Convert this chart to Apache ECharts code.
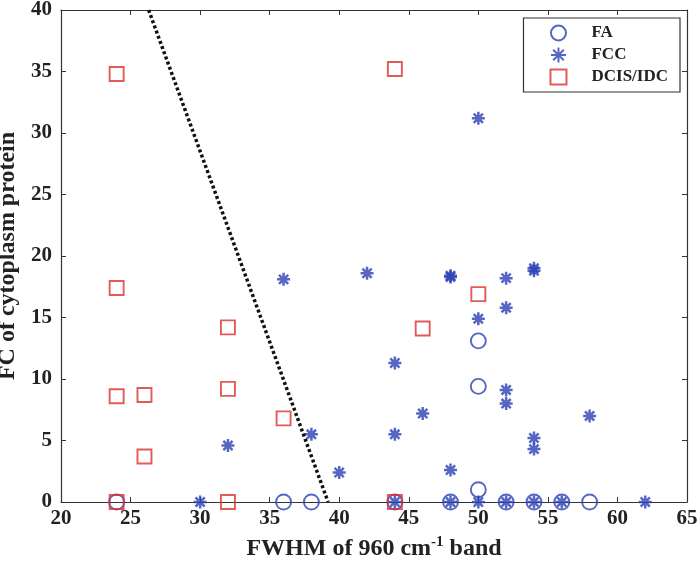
<!DOCTYPE html>
<html><head><meta charset="utf-8">
<script src="https://cdn.jsdelivr.net/npm/echarts@6/dist/echarts.min.js"></script>
<style>html,body{margin:0;padding:0;background:#fff}#c{width:700px;height:566px}</style>
</head><body><div id="c"></div>
<script>
const faData = [[24,0],[36,0],[38,0],[44,0],[48,0],[50,1],[50,13.1],[50,9.4],[52,0],[54,0],[56,0],[58,0]];
const fccData = [[30,0],[32,4.6],[36,18.1],[38,5.5],[40,2.4],[42,18.6],[44,11.3],[44,5.5],[44,0],[46,7.2],[48,18.3],[48,18.4],[48,2.6],[48,0],[50,31.2],[50,14.9],[50,0],[52,18.2],[52,15.8],[52,9.1],[52,8.0],[52,0],[54,19.0],[54,18.8],[54,5.2],[54,4.3],[54,0],[56,0],[58,7.0],[62,0]];
const dcisData = [[24,34.8],[24,17.4],[24,8.6],[26,8.7],[26,3.7],[32,14.2],[32,9.2],[36,6.8],[44,35.2],[46,14.1],[50,16.9],[24,0],[32,0],[44,0]];
const boundary = [[26.3,40],[39.2,0]];
const seriesNames = ['FA','FCC','DCIS/IDC'];
const xTitle = 'FWHM of 960 cm';
const yTitle = 'FC of cytoplasm protein';

const blue = '#2a40b4', red = '#dc322e';
const font = 'Liberation Serif';
const star = 'path://M0,-10L0,10M-10,0L10,0M-7.07,-7.07L7.07,7.07M-7.07,7.07L7.07,-7.07';
const axisCommon = {
  axisLine:{show:true,onZero:false,lineStyle:{color:'#333',width:1.2}},
  axisTick:{show:true,inside:true,length:5,lineStyle:{color:'#333'}},
  splitLine:{show:false}
};
const chart = echarts.init(document.getElementById('c'));
chart.setOption({
  animation:false,
  backgroundColor:'#fff',
  grid:{left:61,right:13,top:10,bottom:64,containLabel:false,outerBoundsMode:'none'},
  legend:{
    data:seriesNames, orient:'vertical', right:20, top:18,
    backgroundColor:'#fff', borderColor:'#333', borderWidth:1.2, borderRadius:0,
    padding:[6,12,6,26], itemGap:4, itemWidth:16, itemHeight:15,
    textStyle:{fontFamily:font,fontWeight:'bold',fontSize:17,lineHeight:18,color:'#222',padding:[0,0,0,20]}
  },
  xAxis:[
    Object.assign({type:'value',min:20,max:65,interval:5,position:'bottom',
      name:xTitle+'{sup|-1} band', nameLocation:'middle', nameGap:33,
      nameTextStyle:{fontFamily:font,fontWeight:'bold',fontSize:24,color:'#222',
        rich:{sup:{fontFamily:font,fontWeight:'bold',fontSize:15,color:'#222',padding:[0,0,12,0]}}},
      axisLabel:{fontFamily:font,fontWeight:'bold',fontSize:21,color:'#222',margin:6}},axisCommon),
    Object.assign({type:'value',min:20,max:65,interval:5,position:'top',axisLabel:{show:false}},axisCommon)
  ],
  yAxis:[
    Object.assign({type:'value',min:0,max:40,interval:5,position:'left',
      name:yTitle, nameLocation:'middle', nameGap:29,
      nameTextStyle:{fontFamily:font,fontWeight:'bold',fontSize:24,color:'#222'},
      axisLabel:{fontFamily:font,fontWeight:'bold',fontSize:21,color:'#222',margin:9}},axisCommon),
    Object.assign({type:'value',min:0,max:40,interval:5,position:'right',axisLabel:{show:false}},axisCommon)
  ],
  series:[
    {name:'FA',type:'scatter',data:faData,symbol:'circle',symbolSize:15,
      itemStyle:{color:'transparent',borderColor:blue,borderWidth:1.9},z:3},
    {name:'FCC',type:'scatter',data:fccData,symbol:star,symbolSize:13,
      itemStyle:{color:'transparent',borderColor:blue,borderWidth:2.5},z:4},
    {name:'DCIS/IDC',type:'scatter',data:dcisData,symbol:'rect',symbolSize:14,
      itemStyle:{color:'transparent',borderColor:red,borderWidth:1.9},z:5},
    {name:'boundary',type:'line',data:boundary,symbol:'none',
      lineStyle:{color:'#111',width:3.5,type:[3,2.5]},z:6}
  ]
});
</script></body></html>
